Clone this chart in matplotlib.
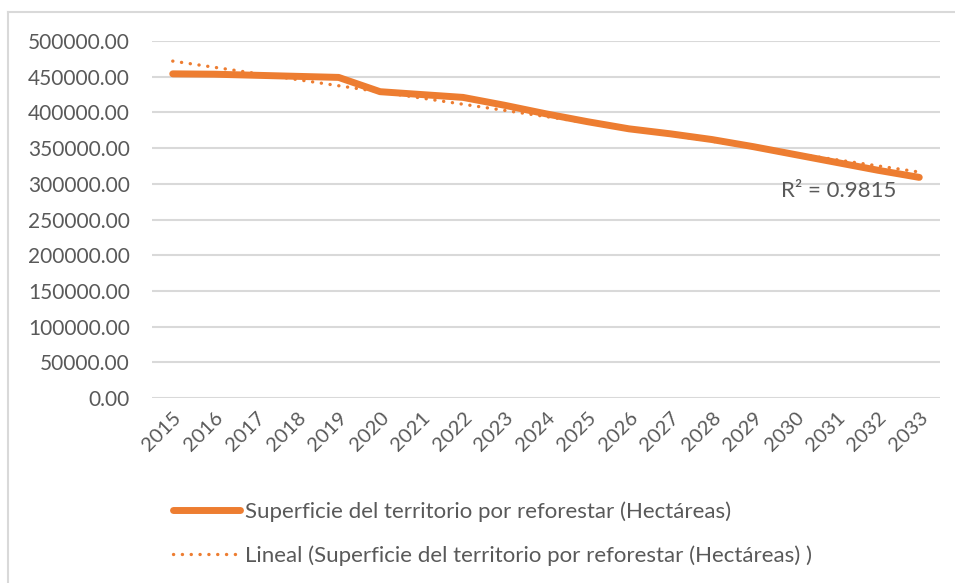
import numpy as np
import matplotlib.pyplot as plt
from matplotlib.lines import Line2D

years = [str(y) for y in range(2015, 2034)]
superficie = [454000, 453500, 452000, 450500, 449000, 429000, 425000, 421000,
              410000, 398000, 387000, 377000, 370000, 362000, 352000, 341000,
              330000, 319000, 309000]
r2_label = "R² = 0.9815"
serie_label = "Superficie del territorio por reforestar (Hectáreas)"
trend_label = "Lineal (Superficie del territorio por reforestar (Hectáreas) )"

ORANGE = "#ED7D31"
GRAY_TXT = "#595959"
GRID = "#D9D9D9"
DOTS = (0, (0.05, 2.6))

plt.rcParams["font.family"] = ["Lato", "DejaVu Sans"]

fig = plt.figure(figsize=(9.55, 5.83), dpi=100)
ax = fig.add_axes([152 / 955, 1 - 398 / 583, 788 / 955, 357 / 583])

x = np.arange(len(years))
ax.plot(x, superficie, color=ORANGE, lw=5, solid_capstyle="round",
        solid_joinstyle="round", zorder=3)

# linea de tendencia lineal
coef = np.polyfit(x, superficie, 1)
ax.plot(x, np.polyval(coef, x), color=ORANGE, lw=2.4, ls=DOTS,
        dash_capstyle="round", zorder=4)

ax.set_xlim(-0.5, len(years) - 0.5)
ax.set_ylim(0, 500000)
ax.set_yticks(np.arange(0, 500001, 50000))
ax.set_yticklabels([f"{v:.2f}" for v in np.arange(0, 500001, 50000)])
ax.set_xticks(x)
ax.set_xticklabels(years, rotation=45, ha="right", rotation_mode="anchor")
ax.tick_params(axis="both", length=0, labelsize=15, colors=GRAY_TXT)
ax.tick_params(axis="x", labelsize=14.5)
ax.tick_params(axis="y", pad=16)
ax.tick_params(axis="x", pad=8)
ax.grid(axis="y", color=GRID, lw=1.5)
ax.set_axisbelow(True)
for s in ax.spines.values():
    s.set_visible(False)

ax.text(17.45, 290000, r2_label, fontsize=16, color=GRAY_TXT,
        ha="right", va="center")

handles = [Line2D([], [], color=ORANGE, lw=5, solid_capstyle="round"),
           Line2D([], [], color=ORANGE, lw=2.4, ls=DOTS,
                  dash_capstyle="round")]
fig.legend(handles, [serie_label, trend_label], loc="upper left",
           bbox_to_anchor=(153 / 955, 1 - 481 / 583), frameon=False,
           fontsize=16, labelcolor=GRAY_TXT, handlelength=3.0,
           handletextpad=0.25, labelspacing=1.05)

# marco del grafico
fig.add_artist(Line2D([8 / 955, 1], [1 - 12 / 583, 1 - 12 / 583],
                      transform=fig.transFigure, color=GRID, lw=1.5))
fig.add_artist(Line2D([8 / 955, 8 / 955], [0, 1 - 12 / 583],
                      transform=fig.transFigure, color=GRID, lw=1.5))

fig.savefig("out.png", dpi=100)
